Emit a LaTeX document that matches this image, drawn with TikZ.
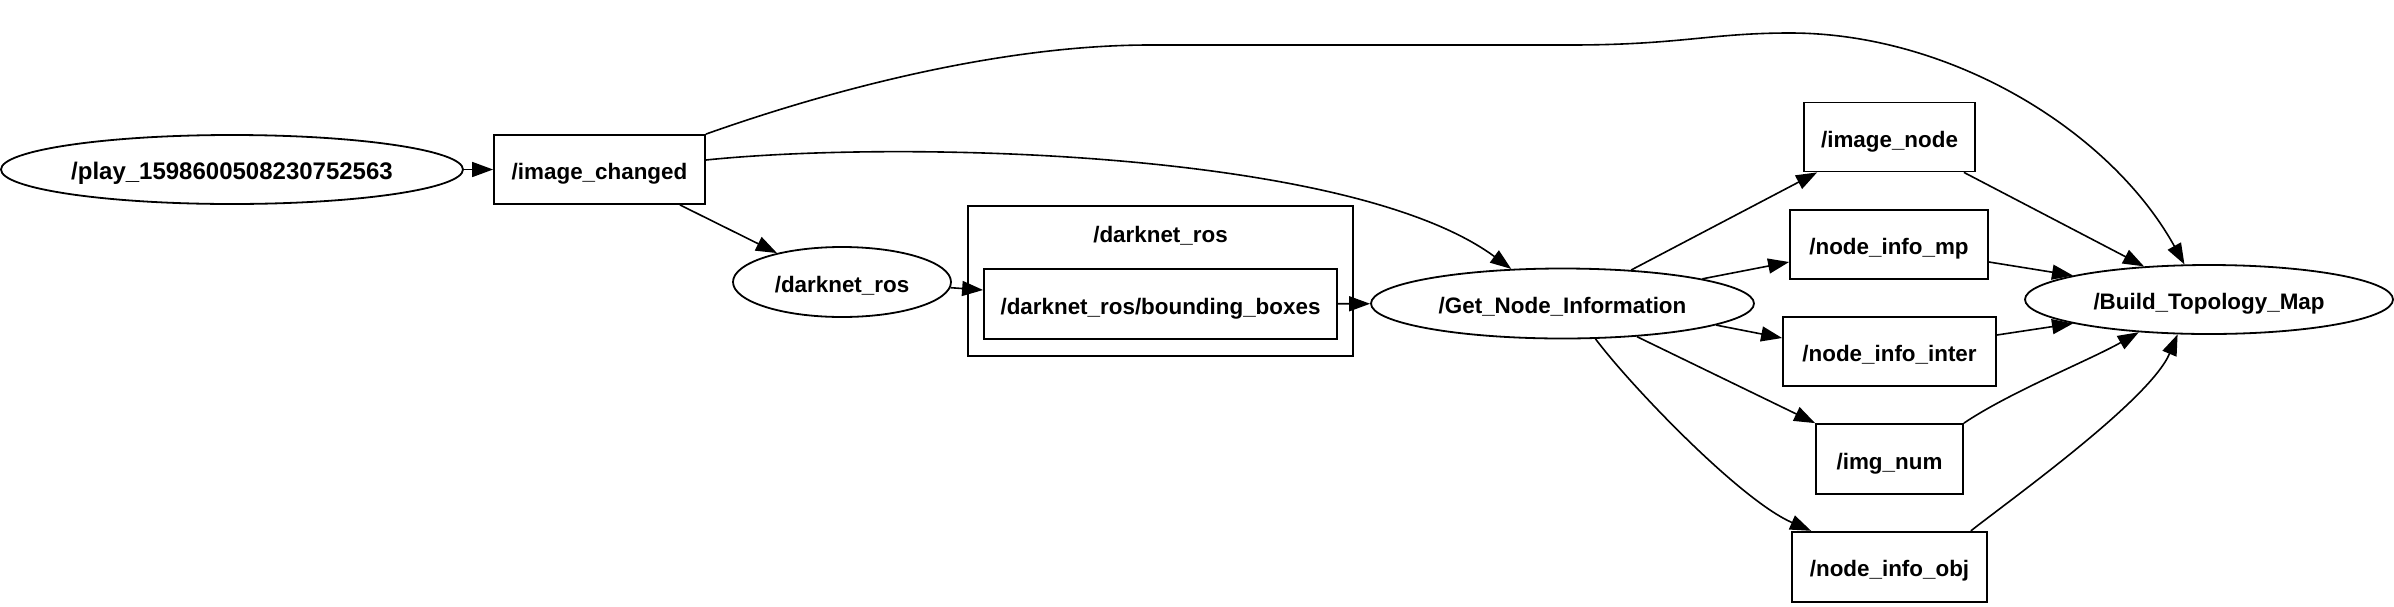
\documentclass[tikz,border=0pt]{standalone}
\usepackage{fontspec}
\setmainfont{Liberation Sans}
\usetikzlibrary{shapes.geometric,arrows.meta}
\begin{document}
\begin{tikzpicture}[x=0.5pt,y=-0.5pt,
  every node/.style={font=\fontsize{11.2}{13}\selectfont\bfseries, inner sep=0pt, line width=0.9pt, text height=10pt, text depth=0pt},
  ell/.style={draw, ellipse, minimum height=34.5pt},
  box/.style={draw, rectangle, minimum height=34.5pt},
  edge/.style={draw, line width=0.8pt, -{Triangle[length=10.5pt,width=7.5pt]}},
]
\useasboundingbox (0,0) rectangle (2394,606);

% nodes
\node[ell, minimum width=231pt, font=\fontsize{12}{14}\selectfont\bfseries] (play) at (232,169.5) {/play\_1598600508230752563};
\node[box, minimum width=105.5pt] (ic) at (599.5,169.5) {/image\_changed};
\node[ell, minimum width=109pt, minimum height=35pt] (darknet) at (842,282) {/darknet\_ros};
\node[draw, rectangle, minimum width=192.5pt, minimum height=75pt] (cluster) at (1160.5,281) {};
\node (clabel) at (1160.5,232) {/darknet\_ros};
\node[box, minimum width=176.5pt, minimum height=35pt] (bb) at (1160.5,304) {/darknet\_ros/bounding\_boxes};
\node[ell, minimum width=191.5pt, minimum height=35pt] (get) at (1562.5,303.5) {/Get\_Node\_Information};
\node[box, minimum width=85.5pt] (imgnode) at (1889.5,137) {/image\_node};
\node[box, minimum width=99pt] (mp) at (1889,244.7) {/node\_info\_mp};
\node[box, minimum width=106.5pt] (inter) at (1889.5,351.5) {/node\_info\_inter};
\node[box, minimum width=73.5pt, minimum height=35pt] (imgnum) at (1889.5,459) {/img\_num};
\node[box, minimum width=97.5pt, minimum height=35pt] (obj) at (1889.5,566.7) {/node\_info\_obj};
\node[ell, minimum width=184pt] (build) at (2209,299.5) {/Build\_Topology\_Map};

% edges
\draw[edge] (play) -- (ic);
\draw[edge] ([xshift=-13pt]ic.south east) -- (darknet.156);
\draw[edge] ([yshift=4.75pt]ic.east) .. controls (900,140) and (1350,150) .. (get.146);
\draw[edge] (ic.north east) .. controls (830,90) and (1000,45) .. (1150,45)
  -- (1570,45) .. controls (1680,45) and (1710,33) .. (1790,33)
  .. controls (1950,33) and (2110,130) .. (build.125);
\draw[edge] (darknet.357) -- ([yshift=7pt]bb.west);
\draw[edge] (bb) -- (get);
\draw[edge] (get.26) -- ([xshift=7pt]imgnode.south west);
\draw[edge] (get.10) -- ([yshift=-8.65pt]mp.west);
\draw[edge] (get.352) -- ([yshift=6.75pt]inter.west);
\draw[edge] (get.336) -- (imgnum.north west);
\draw[edge] (get.313) .. controls (1630,385) and (1740,500) .. ([xshift=10pt]obj.north west);
\draw[edge] ([xshift=-6pt]imgnode.south east) -- (build.153);
\draw[edge] ([yshift=-8.65pt]mp.east) -- (build.170);
\draw[edge] ([yshift=8.25pt]inter.east) -- (build.190);
\draw[edge] (imgnum.north east) .. controls (2010,392) and (2090,360) .. (build.205);
\draw[edge] ([xshift=-8.5pt]obj.north east) .. controls (2010,500) and (2150,400) .. (build.228);
\end{tikzpicture}
\end{document}
